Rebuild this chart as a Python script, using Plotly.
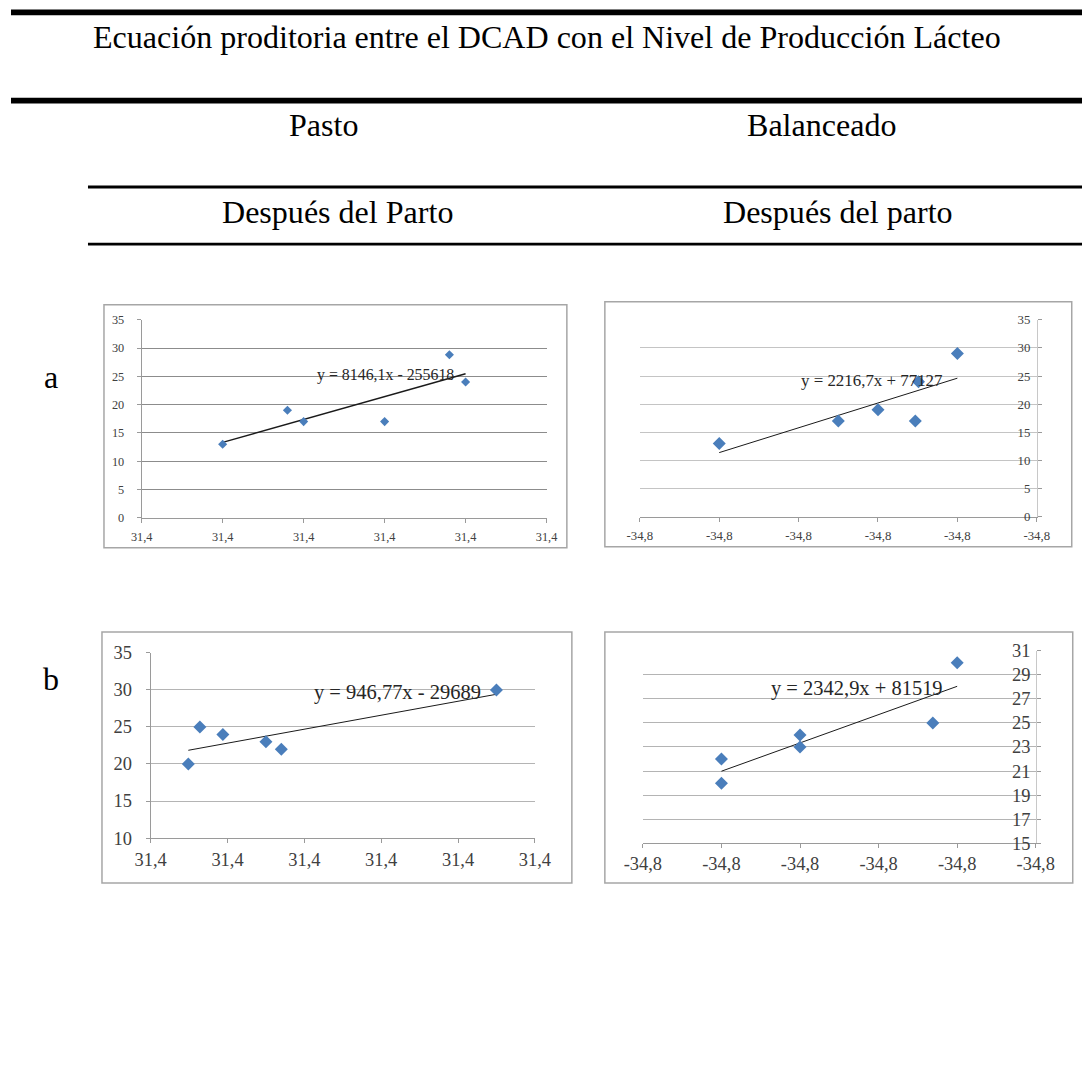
import numpy as np
import plotly.graph_objects as go

# ---------------- data ----------------
# Pasto, después del parto (a)
pasto_a_x = [31.3800, 31.38040, 31.3805, 31.3810, 31.3814, 31.3815]
pasto_a_y = [13, 19, 17, 17, 28.8, 24]
pasto_a_ticks = [31.3795, 31.3800, 31.3805, 31.3810, 31.3815, 31.3820]
pasto_a_eq = "y = 8146,1x - 255618"

# Balanceado, después del parto (a)
bal_a_x = [-34.788, -34.785, -34.784, -34.78306, -34.78298, -34.782]
bal_a_y = [13, 17, 19, 17, 24, 29]
bal_a_ticks = [-34.790, -34.788, -34.786, -34.784, -34.782, -34.780]
bal_a_eq = "y = 2216,7x + 77127"

# Pasto (b)
pasto_b_x = [31.38098, 31.38128, 31.38188, 31.3830, 31.3834, 31.3890]
pasto_b_y = [20, 25, 24, 23, 22, 30]
pasto_b_ticks = [31.380, 31.382, 31.384, 31.386, 31.388, 31.390]
pasto_b_eq = "y = 946,77x - 29689"

# Balanceado (b)
bal_b_x = [-34.785, -34.785, -34.784, -34.784, -34.78231, -34.782]
bal_b_y = [22, 20, 24, 23, 25, 30]
bal_b_ticks = [-34.786, -34.785, -34.784, -34.783, -34.782, -34.781]
bal_b_eq = "y = 2342,9x + 81519"

pasto_label = "31,4"
bal_label = "-34,8"

title = "Ecuación proditoria entre el DCAD con el Nivel de Producción Lácteo"
col_heads = ["Pasto", "Balanceado"]
sub_heads = ["Después del Parto", "Después del parto"]
row_labels = ["a", "b"]

# ---------------- layout helpers ----------------
W, H = 1110, 1067
SX0, SXS = 19.0, 0.966     # observed page offset / scale (horizontal)
SY0, SYS = 10.5, 0.9806    # observed page offset / scale (vertical)
FS = 1 / 0.976             # font compensation


def px(x):
    return ((x - SX0) / SXS) / W


def py(y):
    return 1 - ((y - SY0) / SYS) / H


def f(s):
    return s * FS


SERIF = "Liberation Serif, Times New Roman, serif"
BLUE = "#4A7EBB"

fig = go.Figure()

panels = [
    dict(x=pasto_a_x, y=pasto_a_y, ticks=pasto_a_ticks, lab=pasto_label, eq=pasto_a_eq,
         xd=(141.7, 546.7), yd=(320, 518), yr=(0, 35), dy=5, side="left",
         grid="#8c8c8c", tfs=12, efs=15.5, eqpos=(386, 375), msize=7, lw=1.4,
         ystand=10, xstand=3, box=(104, 305, 567, 548)),
    dict(x=bal_a_x, y=bal_a_y, ticks=bal_a_ticks, lab=bal_label, eq=bal_a_eq,
         xd=(640, 1037), yd=(320, 517), yr=(0, 35), dy=5, side="right",
         grid="#c4c4c4", tfs=12.5, efs=16.5, eqpos=(872, 381), msize=10, lw=1,
         ystand=6, xstand=3, box=(605, 302, 1072, 547)),
    dict(x=pasto_b_x, y=pasto_b_y, ticks=pasto_b_ticks, lab=pasto_label, eq=pasto_b_eq,
         xd=(150.7, 535), yd=(653, 838), yr=(10, 35), dy=5, side="left",
         grid="#b4b4b4", tfs=18, efs=20, eqpos=(398, 693), msize=10, lw=1,
         ystand=10, xstand=1, box=(102, 632, 572, 883)),
    dict(x=bal_b_x, y=bal_b_y, ticks=bal_b_ticks, lab=bal_label, eq=bal_b_eq,
         xd=(643, 1036), yd=(650.7, 843.3), yr=(15, 31), dy=2, side="right",
         grid="#b4b4b4", tfs=18, efs=20, eqpos=(857, 689), msize=10, lw=1,
         ystand=6, xstand=0, box=(605, 632, 1073, 883)),
]

shapes = []
annotations = []

for i, p in enumerate(panels, start=1):
    xa = "x" if i == 1 else f"x{i}"
    ya = "y" if i == 1 else f"y{i}"
    # trend line from least squares fit of the data
    slope, icpt = np.polyfit(np.array(p["x"]), np.array(p["y"]), 1)
    tx = np.array([min(p["x"]), max(p["x"])])
    fig.add_trace(go.Scatter(x=tx, y=slope * tx + icpt, mode="lines",
                             line=dict(color="#1a1a1a", width=p["lw"]),
                             xaxis=xa, yaxis=ya, showlegend=False, hoverinfo="skip"))
    fig.add_trace(go.Scatter(x=p["x"], y=p["y"], mode="markers",
                             marker=dict(symbol="diamond", size=p["msize"], color=BLUE,
                                         line=dict(width=0)),
                             xaxis=xa, yaxis=ya, showlegend=False))
    xkey = "xaxis" if i == 1 else f"xaxis{i}"
    ykey = "yaxis" if i == 1 else f"yaxis{i}"
    fig.layout[xkey] = dict(
        domain=[px(p["xd"][0]), px(p["xd"][1])], anchor=ya,
        range=[p["ticks"][0], p["ticks"][-1]],
        tickvals=p["ticks"], ticktext=[p["lab"]] * len(p["ticks"]),
        showgrid=False, zeroline=False, showline=True, linecolor="#9a9a9a", linewidth=1,
        ticks="outside", ticklen=4, tickcolor="#9a9a9a",
        ticklabelstandoff=p["xstand"],
        tickfont=dict(family=SERIF, size=f(p["tfs"]), color="#404040"),
        fixedrange=True,
    )
    yvals = list(range(p["yr"][0], p["yr"][1] + 1, p["dy"]))
    ydict = dict(
        domain=[py(p["yd"][1]), py(p["yd"][0])], anchor=xa,
        range=[p["yr"][0], p["yr"][1]], tickvals=yvals,
        showgrid=True, gridcolor=p["grid"], gridwidth=1, zeroline=False,
        showline=True, linecolor="#9a9a9a", linewidth=1,
        ticks="outside", ticklen=4, tickcolor="#9a9a9a",
        ticklabelstandoff=p["ystand"],
        tickfont=dict(family=SERIF, size=f(p["tfs"]), color="#404040"),
        side=p["side"], fixedrange=True,
    )
    if p["side"] == "right":
        ydict["ticklabelposition"] = "inside"
        ydict["ticklabeloverflow"] = "allow"
        ydict["linecolor"] = "#c8c8c8"
    fig.layout[ykey] = ydict
    # chart border
    bx = p["box"]
    shapes.append(dict(type="rect", xref="paper", yref="paper",
                       x0=px(bx[0]), x1=px(bx[2]), y0=py(bx[3]), y1=py(bx[1]),
                       line=dict(color="#a6a6a6", width=1.5), fillcolor="rgba(0,0,0,0)",
                       layer="below"))
    annotations.append(dict(text=p["eq"], xref="paper", yref="paper",
                            x=px(p["eqpos"][0]), y=py(p["eqpos"][1]),
                            xanchor="center", yanchor="middle", showarrow=False,
                            font=dict(family=SERIF, size=f(p["efs"]), color="#262626")))

# header rules
for (x0, y0, y1) in [(11, 10, 15.7), (11, 98.3, 104), (88, 186, 188.8), (88, 243, 245.8)]:
    shapes.append(dict(type="rect", xref="paper", yref="paper",
                       x0=px(x0), x1=1, y0=py(y1), y1=py(y0),
                       line=dict(width=0), fillcolor="black"))

HFS = 31.3
annotations.append(dict(text=title, xref="paper", yref="paper", x=px(547), y=py(37),
                        xanchor="center", yanchor="middle", showarrow=False,
                        font=dict(family=SERIF, size=f(HFS), color="black")))
for txt, cx in zip(col_heads, [324, 822]):
    annotations.append(dict(text=txt, xref="paper", yref="paper", x=px(cx), y=py(125),
                            xanchor="center", yanchor="middle", showarrow=False,
                            font=dict(family=SERIF, size=f(HFS), color="black")))
for txt, cx in zip(sub_heads, [338, 838]):
    annotations.append(dict(text=txt, xref="paper", yref="paper", x=px(cx), y=py(212),
                            xanchor="center", yanchor="middle", showarrow=False,
                            font=dict(family=SERIF, size=f(HFS), color="black")))
for txt, cy in zip(row_labels, [377, 679]):
    annotations.append(dict(text=txt, xref="paper", yref="paper", x=px(51), y=py(cy),
                            xanchor="center", yanchor="middle", showarrow=False,
                            font=dict(family=SERIF, size=f(HFS), color="black")))

fig.update_layout(width=W, height=H, margin=dict(l=0, r=0, t=0, b=0),
                  paper_bgcolor="white", plot_bgcolor="white",
                  shapes=shapes, annotations=annotations, showlegend=False)

fig.write_html("out.html", config={"displayModeBar": False})
